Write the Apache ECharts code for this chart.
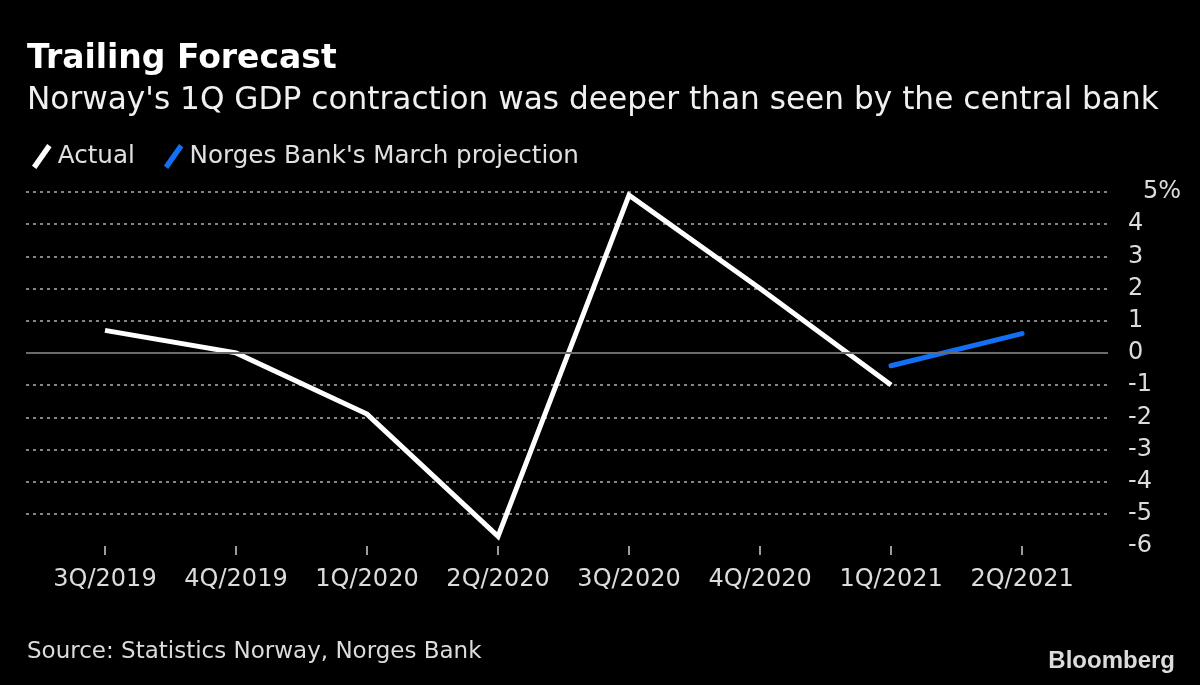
<!DOCTYPE html>
<html>
<head>
<meta charset="utf-8">
<script src="https://cdn.jsdelivr.net/npm/echarts@6/dist/echarts.min.js"></script>
<style>
html,body{margin:0;padding:0;background:#000;}
#chart{width:1200px;height:685px;}
</style>
</head>
<body>
<div id="chart"></div>
<script>
var categories = ['3Q/2019','4Q/2019','1Q/2020','2Q/2020','3Q/2020','4Q/2020','1Q/2021','2Q/2021'];
var actual = [0.7, 0.0, -1.9, -5.7, 4.9, 2.0, -1.0, null];
var projection = [null, null, null, null, null, null, -0.4, 0.6];
var yTicks = [-6,-5,-4,-3,-2,-1,0,1,2,3,4,5];

var FONT = '"DejaVu Sans", sans-serif';
var chart = echarts.init(document.getElementById('chart'));

function pairs(arr){ return arr.map(function(v,i){ return [i, v]; }); }

var gridColors = yTicks.map(function(v){ return v === -6 ? 'rgba(0,0,0,0)' : '#858585'; });

chart.setOption({
  backgroundColor: '#000',
  animation: false,
  title: [
    {text: 'Trailing Forecast', left: 22, top: 38, textStyle: {color: '#fff', fontFamily: FONT, fontWeight: 'bold', fontSize: 33}},
    {text: "Norway's 1Q GDP contraction was deeper than seen by the central bank", left: 22, top: 80, textStyle: {color: '#f0f0f0', fontFamily: FONT, fontWeight: 'normal', fontSize: 31.2}},
    {text: 'Source: Statistics Norway, Norges Bank', left: 22, top: 636, textStyle: {color: '#dcdcdc', fontFamily: FONT, fontWeight: 'normal', fontSize: 23}},
    {text: 'Bloomberg', right: 20, top: 644, textStyle: {color: '#dcdcdc', fontFamily: '"Liberation Sans", Arial, sans-serif', fontWeight: 'bold', fontSize: 24}}
  ],
  legend: {
    left: 27, top: 139,
    itemWidth: 22, itemHeight: 25, itemGap: 29,
    icon: 'path://M0,20 L14,0 L18,3 L4,23 Z',
    textStyle: {color: '#e0e0e0', fontFamily: FONT, fontSize: 24.6},
    data: ['Actual', "Norges Bank's March projection"]
  },
  grid: {left: 26, right: 92, top: 192, bottom: 139},
  xAxis: {
    type: 'value',
    min: -0.603, max: 7.656,
    axisLine: {show: false, onZero: false},
    splitLine: {show: false},
    axisTick: {show: true, customValues: [0,1,2,3,4,5,6,7], length: 9, lineStyle: {color: '#cfcfcf', width: 1.5}},
    axisLabel: {
      customValues: [0,1,2,3,4,5,6,7],
      color: '#dcdcdc', fontFamily: FONT, fontSize: 24, margin: 22,
      formatter: function(v){ return categories[Math.round(v)] || ''; }
    }
  },
  yAxis: {
    type: 'value', position: 'right',
    min: -6, max: 5, interval: 1,
    axisLine: {show: false}, axisTick: {show: false},
    splitLine: {show: true, lineStyle: {color: gridColors, type: [3, 4], width: 2}},
    axisLabel: {
      color: '#dcdcdc', fontFamily: FONT, fontSize: 24, margin: 20, align: 'left',
      formatter: function(v){ return v === 5 ? '{p|5%}' : String(v); },
      rich: {p: {color: '#dcdcdc', fontFamily: FONT, fontSize: 24, padding: [0,0,0,15]}}
    }
  },
  series: [
    {
      name: 'Actual', type: 'line', data: pairs(actual), showSymbol: false, symbol: 'none',
      lineStyle: {color: '#ffffff', width: 5, join: 'miter', cap: 'butt'}, itemStyle: {color: '#ffffff'},
      z: 3,
      markLine: {
        silent: true, symbol: 'none', label: {show: false},
        lineStyle: {color: '#6b6b6b', type: 'solid', width: 2},
        data: [{yAxis: 0}]
      }
    },
    {
      name: "Norges Bank's March projection", type: 'line', data: pairs(projection), showSymbol: false, symbol: 'none',
      lineStyle: {color: '#1370f5', width: 5, cap: 'round'}, itemStyle: {color: '#1370f5'},
      z: 4
    }
  ]
});
</script>
</body>
</html>
